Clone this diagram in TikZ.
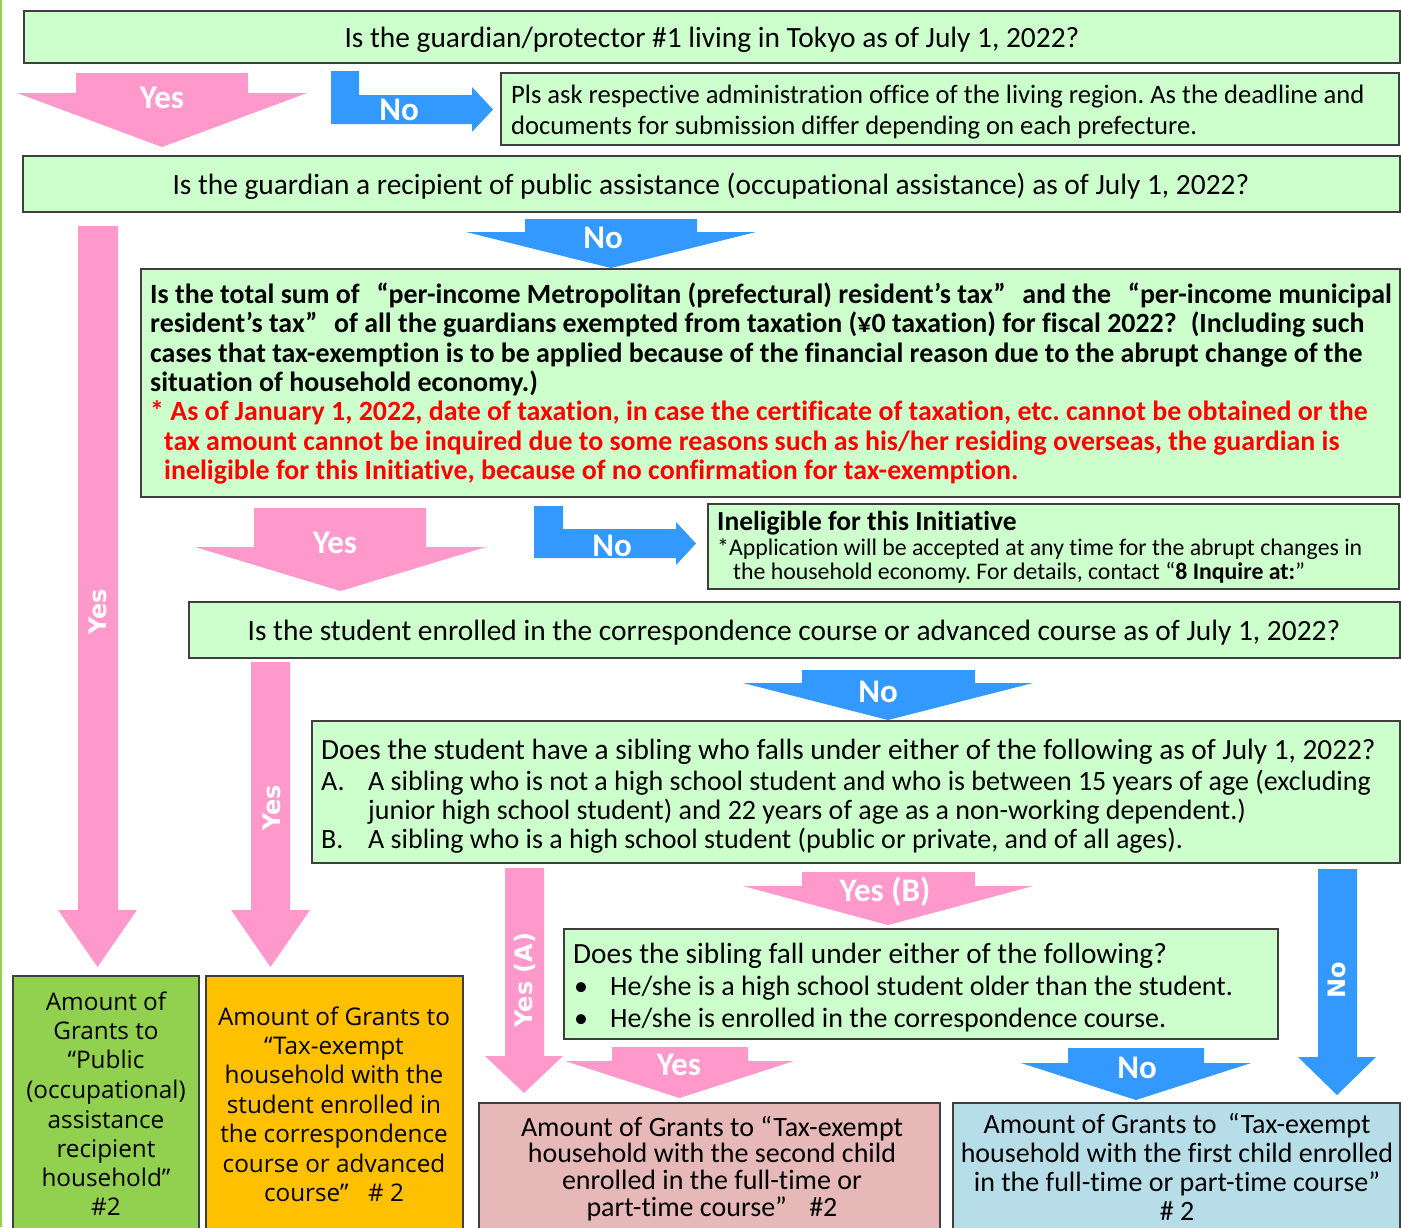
\documentclass[tikz,border=0pt]{standalone}
\usepackage{fontspec}
\setmainfont{Carlito}[Ligatures=NoCommon]
\newfontfamily\widefont{Open Sans}
\newfontfamily\rotfont{DejaVu Sans}
\definecolor{qgreen}{HTML}{CCFFCC}
\definecolor{boxline}{HTML}{3F3F3F}
\definecolor{apink}{HTML}{FF99CC}
\definecolor{ablue}{HTML}{3399FF}
\definecolor{ggreen}{HTML}{92D050}
\definecolor{gorange}{HTML}{FFC000}
\definecolor{gpink}{HTML}{E6B8B7}
\definecolor{gblue}{HTML}{B7DEE8}
\definecolor{redtxt}{HTML}{FF0000}
\newcommand\setfs[2]{\fontsize{#1}{#2}\selectfont}
% down block arrow: style, shaft x1, x2, top, head x1, x2, head base y, tip y
\newcommand\dnarrow[8]{\fill[#1] (#2,#4) -- (#3,#4) -- (#3,#7) -- (#6,#7) -- ({(#5+#6)/2},#8) -- (#5,#7) -- (#2,#7) -- cycle;}
% bent block arrow: vx1, vx2, top, shaft y1, y2, head x, head y1, y2, tip x
\newcommand\bentarrow[9]{\fill[ablue] (#1,#3) -- (#2,#3) -- (#2,#4) -- (#6,#4) -- (#6,#7) -- (#9,{(#7+#8)/2}) -- (#6,#8) -- (#6,#5) -- (#1,#5) -- cycle;}
\frenchspacing
\begin{document}
\begin{tikzpicture}[x=1pt,y=-1pt,
  qbox/.style={draw=boxline, line width=1.5pt, fill=qgreen},
  gbox/.style={draw=boxline, line width=1.5pt},
  lbl/.style={text=white, font=\bfseries\setfs{33}{38}, inner sep=0},
  rlbl/.style={text=white, font=\rotfont\bfseries\setfs{24}{28}, rotate=90, inner sep=0},
  ln/.style={anchor=base west, inner sep=0},
  cn/.style={anchor=base, inner sep=0}]
\useasboundingbox (0,0) rectangle (1401,1227);
\clip (0,0) rectangle (1401,1227);
\fill[white] (0,0) rectangle (1401,1227);
\draw[ggreen, line width=2pt] (1,0) -- (1,1227);

% boxes
\draw[qbox] (24,11) rectangle (1400,63);
\draw[qbox] (501,73) rectangle (1399,145);
\draw[qbox] (23,156) rectangle (1400,212);
\draw[qbox] (141,269) rectangle (1400,497);
\draw[qbox] (708,504) rectangle (1399,589);
\draw[qbox] (189,602) rectangle (1400,658);
\draw[qbox] (312,721) rectangle (1400,863);
\draw[qbox] (564,929) rectangle (1278,1039);
\draw[gbox, fill=ggreen] (13,976) rectangle (199,1260);
\draw[gbox, fill=gorange] (206,976) rectangle (463,1260);
\draw[gbox, fill=gpink] (479,1103) rectangle (940,1260);
\draw[gbox, fill=gblue] (953,1103) rectangle (1400,1260);

% arrows
\dnarrow{apink}{76}{248}{73}{17}{307}{93}{147}
\bentarrow{331}{359}{71}{95}{124}{472}{87}{132}{493}
\dnarrow{ablue}{525}{697}{219}{466}{756}{232}{268}
\dnarrow{apink}{78}{118}{226}{58}{137}{910}{967}
\dnarrow{apink}{254}{426}{508}{195}{486}{547}{591}
\bentarrow{534}{563}{506}{529}{558}{676}{522}{565}{696}
\dnarrow{apink}{251}{290}{662}{231}{310}{910}{967}
\dnarrow{ablue}{802}{975}{670}{743}{1033}{683}{720}
\dnarrow{apink}{505}{544}{868}{485}{563}{1056}{1093}
\dnarrow{apink}{802}{975}{872}{743}{1033}{886}{925}
\dnarrow{ablue}{1318}{1357}{869}{1298}{1376}{1057}{1095}
\dnarrow{apink}{612}{748}{1047}{565}{794}{1061}{1098}
\dnarrow{ablue}{1068}{1204}{1048}{1021}{1251}{1063}{1100}

% arrow labels
\node[lbl] (l1) at (162,98) {Yes};
\node[lbl] (l2) at (399,110) {No};
\node[lbl] (l3) at (603,238) {No};
\node[rlbl] (l4) at (98,612) {Yes};
\node[lbl] (l5) at (335,543) {Yes};
\node[lbl] (l6) at (612,546) {No};
\node[lbl] (l7) at (878,692) {No};
\node[rlbl] (l8) at (272,808) {Yes};
\node[rlbl] (l9) at (525,980) {Yes (A)};
\node[lbl] (l10) at (885,892) {Yes (B)};
\node[rlbl] (l11) at (1337,980) {No};
\node[lbl] (l12) at (679,1065) {Yes};
\node[lbl] (l13) at (1137,1068) {No};

% texts
\node[cn, font=\setfs{29.4}{34}] (t1) at (712,47) {Is the guardian/protector \#1 living in Tokyo as of July 1, 2022?};
\begin{scope}[every node/.style={ln, font=\setfs{26.6}{30}}]
\node (t2a) at (511,103) {Pls ask respective administration office of the living region. As the deadline and};
\node (t2b) at (511,134) {documents for submission differ depending on each prefecture.};
\end{scope}
\node[cn, font=\setfs{29.4}{34}] (t3) at (711,194) {Is the guardian a recipient of public assistance (occupational assistance) as of July 1, 2022?};
\begin{scope}[every node/.style={ln, font=\bfseries\setfs{27.9}{30}}]
\node (t4a) at (150,303) {Is the total sum of\hspace{0.6em}“per-income Metropolitan (prefectural) resident’s tax”\hspace{0.6em}and the\hspace{0.6em}“per-income municipal};
\node (t4b) at (150,332) {resident’s tax”\hspace{0.6em}of all the guardians exempted from taxation (¥0 taxation) for fiscal 2022?\hspace{0.5em}(Including such};
\node (t4c) at (150,362) {cases that tax-exemption is to be applied because of the financial reason due to the abrupt change of the};
\node (t4d) at (150,391) {situation of household economy.)};
\node[text=redtxt] (t4e) at (150,420) {* As of January 1, 2022, date of taxation, in case the certificate of taxation, etc. cannot be obtained or the};
\node[text=redtxt] (t4f) at (164,450) {tax amount cannot be inquired due to some reasons such as his/her residing overseas, the guardian is};
\node[text=redtxt] (t4g) at (164,479) {ineligible for this Initiative, because of no confirmation for tax-exemption.};
\end{scope}
\node[ln, font=\bfseries\setfs{27.5}{30}] (t5a) at (717,530) {Ineligible for this Initiative};
\node[ln, font=\setfs{23.8}{26}] (t5b) at (717,555) {*Application will be accepted at any time for the abrupt changes in};
\node[ln, font=\setfs{23.8}{26}] (t5c) at (733,579) {the household economy. For details, contact “\textbf{8 Inquire at:}”};
\node[cn, font=\setfs{29.4}{34}] (t6) at (794,640) {Is the student enrolled in the correspondence course or advanced course as of July 1, 2022?};
\begin{scope}[every node/.style={ln, font=\setfs{29.3}{32}}]
\node (t7a) at (321,759) {Does the student have a sibling who falls under either of the following as of July 1, 2022?};
\node (t8a) at (573,963) {Does the sibling fall under either of the following?};
\end{scope}
\begin{scope}[every node/.style={ln, font=\setfs{28}{32}}]
\node (t7b) at (321,790) {A.};
\node (t7c) at (368,790) {A sibling who is not a high school student and who is between 15 years of age (excluding};
\node (t7d) at (368,819) {junior high school student) and 22 years of age as a non-working dependent.)};
\node (t7e) at (321,848) {B.};
\node (t7f) at (368,848) {A sibling who is a high school student (public or private, and of all ages).};
\node (t8b) at (574,995) {•};
\node (t8c) at (610,995) {He/she is a high school student older than the student.};
\node (t8d) at (574,1027) {•};
\node (t8e) at (610,1027) {He/she is enrolled in the correspondence course.};
\end{scope}
\begin{scope}[every node/.style={cn, font=\widefont\setfs{24.3}{29}}]
\node (g1) at (106,1010) {Amount of};
\node (g2) at (106,1039) {Grants to};
\node (g3) at (106,1068) {“Public};
\node (g4) at (106,1098) {(occupational)};
\node (g5) at (106,1128) {assistance};
\node (g6) at (106,1157) {recipient};
\node (g7) at (106,1186) {household”};
\node (g8) at (106,1215) {\#2};
\node (o1) at (334,1025) {Amount of Grants to};
\node (o2) at (334,1054) {“Tax-exempt};
\node (o3) at (334,1083) {household with the};
\node (o4) at (334,1113) {student enrolled in};
\node (o5) at (334,1142) {the correspondence};
\node (o6) at (334,1172) {course or advanced};
\node (o7) at (334,1201) {course”\hspace{0.8em}\# 2};
\end{scope}
\begin{scope}[every node/.style={cn, font=\setfs{28}{30}}]
\node (p1) at (712,1136) {Amount of Grants to “Tax-exempt};
\node (p2) at (712,1162) {household with the second child};
\node (p3) at (712,1189) {enrolled in the full-time or};
\node (p4) at (712,1216) {part-time course”\hspace{0.8em}\#2};
\node (b1) at (1177,1133) {Amount of Grants to\hspace{0.4em}“Tax-exempt};
\node (b2) at (1177,1162) {household with the first child enrolled};
\node (b3) at (1177,1191) {in the full-time or part-time course”};
\node (b4) at (1177,1220) {\# 2};
\end{scope}
\end{tikzpicture}
\end{document}
